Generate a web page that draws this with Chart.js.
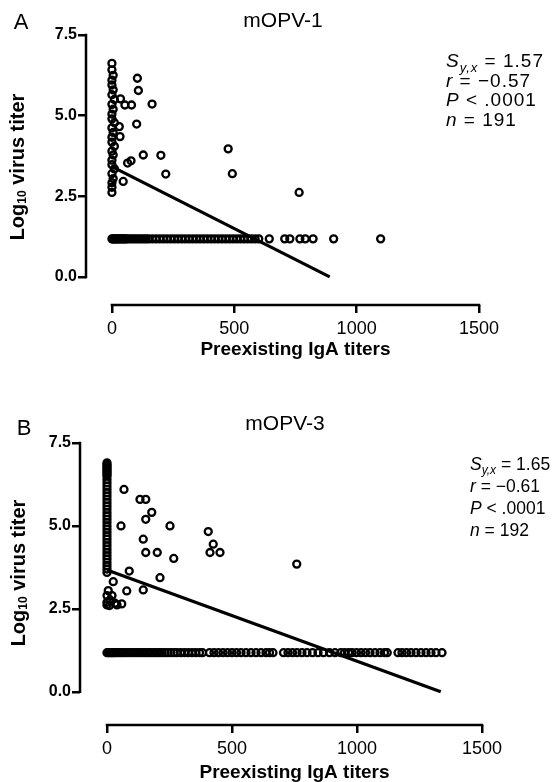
<!DOCTYPE html>
<html>
<head>
<meta charset="utf-8">
<script src="https://cdn.jsdelivr.net/npm/chart.js@4.4.1/dist/chart.umd.min.js"></script>
<style>
    html, body { margin: 0; padding: 0; background: #fff; }
    #wrap { position: relative; width: 558px; height: 782px; overflow: hidden; }
    canvas { position: absolute; left: 0; width: 558px; height: 391px; }
    #chartA { top: 0; }
    #chartB { top: 391px; }
</style>
</head>
<body>
<div id="wrap">
    <canvas id="chartA" width="558" height="391"></canvas>
    <canvas id="chartB" width="558" height="391"></canvas>
</div>
<script>
// ─── Data ─────────────────────────────────────────────

const xTicks = [0, 500, 1000, 1500];
const yTicks = [0, 2.5, 5, 7.5];
const detectionLimit = 1.18;

// mOPV-1: points above the detection limit
const igaA = [
    0, 0, 5, 0, 0, 5, 0, 10, 0, 5, 0, 0, 10, 0, 5, 0, 0, 10, 0, 5, 0, 0, 10, 0, 5, 0, 0, 0,
    35, 53, 80, 104, 108, 164, 101, 128, 200, 220, 64, 78, 46, 475, 492, 765, 30, 33,
];
const virusA = [
    6.62, 6.42, 6.25, 6.1, 5.95, 5.8, 5.65, 5.5, 5.35, 5.2, 5.05, 4.9, 4.78, 4.62, 4.48, 4.33,
    4.18, 4.05, 3.9, 3.78, 3.62, 3.48, 3.35, 3.2, 3.05, 2.92, 2.78, 2.62,
    5.52, 5.33, 5.33, 6.16, 5.78, 5.36, 4.74, 3.78, 3.77, 3.19, 3.53, 3.6, 2.96, 3.97, 3.2, 2.62, 4.66, 4.35,
];
// mOPV-1: IgA titers of the points sitting on the detection limit
const limitIgaA = [
    0, 4, 8, 12, 16, 20, 25, 30, 35, 40, 45, 50, 55, 60, 70, 80, 90, 100, 110, 120, 130, 140, 150,
    165, 180, 195, 210, 225, 240, 255, 270, 285, 300, 315, 330, 345, 360, 375, 390, 405, 420, 435,
    450, 465, 480, 495, 510, 525, 540, 555, 570, 585, 600, 643, 706, 727, 768, 790, 822, 906, 1098,
];
const fitXA = [0, 890];
const fitYA = [3.42, 0];
const statsA = ['1.57', '\u22120.57', '.0001', '191'];

// mOPV-3
const igaB = [
    0, 0, 0, 0, 0, 0, 0, 0, 0, 0, 0, 0, 0, 0, 0, 0, 0, 0, 0, 0, 0, 0, 0, 0, 0, 0, 0, 0, 0, 0,
    0, 0, 0, 0, 0, 0, 0, 0,
    5, 0, 12, 0, 20, 32, 59, 40, 0, 10,
    68, 132, 155, 179, 155, 56, 252, 145, 405, 425, 412, 452, 155, 201, 267, 759, 89, 212, 25, 79, 145,
];
const virusB = [
    6.9, 6.85, 6.8, 6.75, 6.7, 6.65, 6.6, 6.55, 6.5, 6.4, 6.3, 6.2, 6.1, 6.0, 5.9, 5.8, 5.7, 5.6,
    5.5, 5.4, 5.3, 5.2, 5.1, 5.0, 4.9, 4.8, 4.7, 4.6, 4.5, 4.4, 4.3, 4.2, 4.1, 4.0, 3.9, 3.8, 3.7, 3.6,
    3.05, 2.9, 2.77, 2.7, 2.9, 2.67, 2.65, 2.62, 2.62, 2.6,
    6.1, 5.8, 5.8, 5.41, 5.2, 5.0, 5.0, 4.6, 4.83, 4.45, 4.2, 4.2, 4.2, 4.2, 4.02, 3.85, 3.64, 3.44, 3.32, 3.04, 3.07,
];
const limitIgaB = [
    0, 5, 10, 15, 20, 25, 30, 38, 46, 54, 62, 70, 80, 90, 100, 110, 120, 130, 140, 150, 160, 170,
    180, 190, 200, 210, 220, 232, 244, 256, 268, 280, 295, 310, 325, 340, 355, 370, 382,
    410, 428, 446, 464, 482, 500, 518, 536, 556, 576, 596, 616, 636, 650, 664,
    706, 724, 742, 760, 780, 800, 822, 844, 866, 890, 912, 935, 950, 966,
    980, 998, 1016, 1034, 1052, 1072, 1092, 1110, 1121,
    1164, 1180, 1198, 1216, 1236, 1256, 1276, 1296, 1316, 1340,
];
const fitXB = [0, 1335];
const fitYB = [3.67, 0];
const statsB = ['1.65', '\u22120.61', '.0001', '192'];

// ─── Helpers ──────────────────────────────────────────

const FONT = "'Liberation Sans', Arial, Helvetica, sans-serif";
const CANVAS_H = 391;

function drawRich(ctx, x, y, parts, size) {
    let cx = x;
    for (const [txt, style] of parts) {
        const sub = style === 'sub';
        const fs = sub ? Math.round(size * 0.68) : size;
        ctx.font = `${style === 'i' || sub ? 'italic ' : ''}${fs}px ${FONT}`;
        ctx.fillText(txt, cx, y + (sub ? size * 0.32 : 0));
        cx += ctx.measureText(txt).width;
    }
}

// Prism-style decorations: offset axis lines, titles, stats block
const panelDecor = {
    id: 'panelDecor',
    afterDraw(chart, args, p) {
        const { ctx, chartArea, scales: { x, y } } = chart;
        ctx.save();
        ctx.strokeStyle = '#000';
        ctx.fillStyle = '#000';
        ctx.lineWidth = 2.5;
        ctx.lineCap = 'square';

        // axis lines only over the tick range
        ctx.beginPath();
        ctx.moveTo(chartArea.left, y.getPixelForValue(yTicks[0]));
        ctx.lineTo(chartArea.left, y.getPixelForValue(yTicks[yTicks.length - 1]));
        ctx.moveTo(x.getPixelForValue(xTicks[0]), chartArea.bottom);
        ctx.lineTo(x.getPixelForValue(xTicks[xTicks.length - 1]), chartArea.bottom);
        ctx.stroke();

        ctx.textAlign = 'center';
        ctx.textBaseline = 'middle';
        ctx.font = `22px ${FONT}`;
        ctx.fillText(p.letter, p.letterPos[0], p.letterPos[1]);
        ctx.font = `21px ${FONT}`;
        ctx.fillText(p.title, p.titlePos[0], p.titlePos[1]);

        // x title, centred on the drawn axis
        const xMid = (x.getPixelForValue(xTicks[0]) + x.getPixelForValue(xTicks[xTicks.length - 1])) / 2;
        ctx.font = `bold 19px ${FONT}`;
        ctx.fillText('Preexisting IgA titers', xMid, p.xTitleY);

        // y title with subscript
        ctx.save();
        ctx.translate(p.yTitlePos[0], p.yTitlePos[1]);
        ctx.rotate(-Math.PI / 2);
        ctx.textAlign = 'left';
        const big = `bold 20px ${FONT}`, small = `bold 12px ${FONT}`;
        ctx.font = big;
        const w1 = ctx.measureText('Log').width, w3 = ctx.measureText(' virus titer').width;
        ctx.font = small;
        const w2 = ctx.measureText('10').width;
        let cx = -(w1 + w2 + w3) / 2;
        ctx.font = big;
        ctx.fillText('Log', cx, 0);
        cx += w1;
        ctx.font = small;
        ctx.fillText('10', cx, 5);
        cx += w2;
        ctx.font = big;
        ctx.fillText(' virus titer', cx, 0);
        ctx.restore();

        // stats block
        ctx.textAlign = 'left';
        ctx.letterSpacing = p.statsSpacing;
        const s = p.stats, [sx, sy] = p.statsPos;
        const lines = [
            [['S', 'i'], ['y,x', 'sub'], [' = ' + s[0], 'n']],
            [['r', 'i'], [' = ' + s[1], 'n']],
            [['P', 'i'], [' < ' + s[2], 'n']],
            [['n', 'i'], [' = ' + s[3], 'n']],
        ];
        lines.forEach((parts, i) => drawRich(ctx, sx, sy + i * p.statsGap, parts, p.statsSize));
        ctx.restore();
    },
};

function makeChart(p) {
    const points = p.x.map((v, i) => ({ x: v, y: p.y[i] }))
        .concat(p.limit.map(v => ({ x: v, y: detectionLimit })));
    const fit = p.fitX.map((v, i) => ({ x: v, y: p.fitY[i] }));

    return new Chart(document.getElementById(p.id), {
        type: 'scatter',
        data: {
            datasets: [
                {
                    data: points,
                    pointRadius: 3.5,
                    pointHoverRadius: 3.5,
                    pointBorderWidth: 2.3,
                    borderColor: '#000',
                    backgroundColor: 'rgba(0,0,0,0)',
                },
                {
                    type: 'line',
                    data: fit,
                    borderColor: '#000',
                    borderWidth: 3.2,
                    pointRadius: 0,
                    fill: false,
                },
            ],
        },
        options: {
            responsive: false,
            animation: false,
            layout: { padding: { left: 0, top: p.area.top, right: 558 - p.area.right, bottom: 0 } },
            plugins: {
                legend: { display: false },
                tooltip: { enabled: false },
                panelDecor: p,
            },
            scales: {
                x: {
                    type: 'linear',
                    min: p.xMin,
                    max: 1500,
                    afterBuildTicks: sc => { sc.ticks = xTicks.map(v => ({ value: v })); },
                    afterFit: sc => { sc.height = CANVAS_H - p.area.bottom; },
                    border: { display: false },
                    grid: { drawOnChartArea: false, drawTicks: true, tickLength: 8, color: '#000', lineWidth: 2.5 },
                    ticks: {
                        color: '#000',
                        padding: 5,
                        maxRotation: 0,
                        autoSkip: false,
                        font: { family: FONT, size: 18 },
                        callback: v => String(v),
                    },
                },
                y: {
                    type: 'linear',
                    min: p.yMin,
                    max: 7.5,
                    afterBuildTicks: sc => { sc.ticks = yTicks.map(v => ({ value: v })); },
                    afterFit: sc => { sc.width = p.area.left; },
                    border: { display: false },
                    grid: { drawOnChartArea: false, drawTicks: true, tickLength: 8, color: '#000', lineWidth: 2.5 },
                    ticks: {
                        color: '#000',
                        padding: 1,
                        autoSkip: false,
                        font: { family: FONT, size: 16, weight: 'bold' },
                        callback: v => v.toFixed(1),
                    },
                },
            },
        },
        plugins: [panelDecor],
    });
}

makeChart({
    id: 'chartA', letter: 'A', title: 'mOPV-1',
    x: igaA, y: virusA, limit: limitIgaA, fitX: fitXA, fitY: fitYA, stats: statsA,
    area: { left: 86, top: 35, right: 479, bottom: 305 },
    xMin: -106, yMin: -0.87,
    letterPos: [21, 23], titlePos: [283, 21], xTitleY: 350, yTitlePos: [18, 167],
    statsPos: [446, 62], statsGap: 19.5, statsSize: 19, statsSpacing: '1px',
});

makeChart({
    id: 'chartB', letter: 'B', title: 'mOPV-3',
    x: igaB, y: virusB, limit: limitIgaB, fitX: fitXB, fitY: fitYB, stats: statsB,
    area: { left: 80, top: 52, right: 482, bottom: 334 },
    xMin: -108, yMin: -1.0,
    letterPos: [24, 38], titlePos: [285, 33], xTitleY: 382, yTitlePos: [19, 182],
    statsPos: [470, 74], statsGap: 22, statsSize: 17.5, statsSpacing: '0px',
});
</script>
</body>
</html>
